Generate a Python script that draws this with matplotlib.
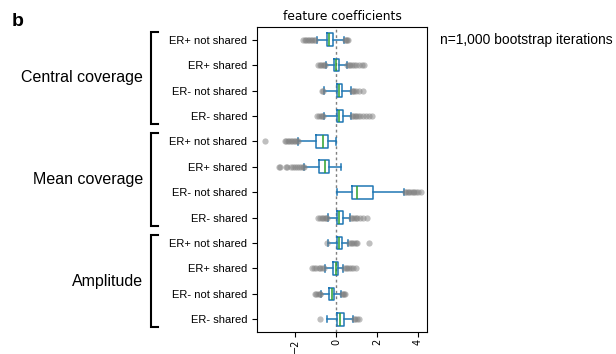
import matplotlib
matplotlib.use("Agg")
import matplotlib.pyplot as plt
from matplotlib.transforms import blended_transform_factory
from matplotlib.lines import Line2D

groups = ["Central coverage", "Mean coverage", "Amplitude"]
subcats = ["ER+ not shared", "ER+ shared", "ER- not shared", "ER- shared"]

# per-row box statistics (12 rows, top to bottom)
q1 = [-0.45, -0.08, 0.03, 0.03, -0.99, -0.81, 0.76, 0.03, 0.03, -0.13, -0.34, 0.03]
med = [-0.33, 0.02, 0.16, 0.16, -0.62, -0.52, 1.01, 0.16, 0.13, 0.00, -0.21, 0.18]
q3 = [-0.16, 0.16, 0.31, 0.33, -0.37, -0.33, 1.79, 0.33, 0.31, 0.11, -0.10, 0.38]
wlo = [-0.94, -0.49, -0.59, -0.59, -1.84, -1.54, 0.03, -0.37, -0.37, -0.54, -0.73, -0.45]
whi = [0.39, 0.52, 0.73, 0.73, 0.00, 0.24, 3.32, 0.68, 0.60, 0.36, 0.23, 0.85]
fliers = [
    [-1.6, -1.52, -1.45, -1.38, -1.3, -1.22, -1.15, -1.08, -1.0, 0.42, 0.48, 0.55, 0.6],
    [-0.87, -0.8, -0.72, -0.65, -0.58, -0.52, 0.55, 0.62, 0.7, 0.78, 0.88, 1.0, 1.12, 1.25, 1.38],
    [-0.7, -0.64, 0.76, 0.82, 0.9, 0.98, 1.1, 1.33],
    [-0.9, -0.82, -0.74, -0.66, -0.62, 0.76, 0.84, 0.92, 1.0, 1.08, 1.18, 1.3, 1.45, 1.6, 1.75],
    [-3.46, -2.49, -2.42, -2.35, -2.28, -2.2, -2.12, -2.05, -1.98, -1.9, -1.86],
    [-2.8, -2.72, -2.45, -2.38, -2.2, -2.1, -2.0, -1.9, -1.8, -1.7, -1.62, -1.57],
    [3.35, 3.42, 3.5, 3.58, 3.66, 3.74, 3.82, 3.9, 4.0, 4.13],
    [-0.86, -0.78, -0.7, -0.62, -0.55, -0.48, -0.42, 0.72, 0.8, 0.88, 0.96, 1.05, 1.15, 1.3, 1.53],
    [-0.45, 0.64, 0.72, 0.8, 0.88, 0.96, 1.05, 1.6],
    [-1.18, -1.05, -0.95, -0.85, -0.76, -0.68, -0.6, 0.4, 0.48, 0.56, 0.64, 0.72, 0.82, 0.98],
    [-1.03, -0.95, -0.87, -0.8, -0.76, 0.28, 0.34, 0.4, 0.44],
    [-0.78, 0.88, 0.95, 1.02, 1.1],
]
xticks = [-2, 0, 2, 4]

fig = plt.figure(figsize=(6.16, 3.54), dpi=100)
ax = fig.add_axes([257/616, 1-332/354, 170/616, 305/354])

stats = []
for i in range(12):
    stats.append(dict(med=med[i], q1=q1[i], q3=q3[i], whislo=wlo[i], whishi=whi[i], fliers=fliers[i]))

blue = "#1f77b4"
ax.bxp(stats, positions=list(range(1, 13)), widths=0.5, orientation="horizontal",
       boxprops=dict(color=blue, linewidth=1.1),
       whiskerprops=dict(color=blue, linewidth=1.1),
       capprops=dict(color=blue, linewidth=1.1),
       medianprops=dict(color="#2ca02c", linewidth=1.1),
       flierprops=dict(marker="o", markerfacecolor="gray", markeredgecolor="none",
                       markersize=4.5, alpha=0.5))

ax.axvline(0, color="gray", linestyle=(0, (2, 2)), linewidth=1.0, zorder=0)
ax.set_xlim(-3.85, 4.44)
ax.set_ylim(12.5, 0.5)
ax.set_xticks(xticks)
ax.set_xticklabels([str(t).replace("-", "\u2212") for t in xticks], rotation=90,
                   fontsize=7, family="DejaVu Sans")
ax.set_yticks(list(range(1, 13)))
ax.set_yticklabels(subcats * 3, fontsize=8, family="Liberation Sans")
ax.tick_params(axis="both", length=3.5, width=0.8)
ax.tick_params(axis="x", pad=1.5)
for s in ax.spines.values():
    s.set_linewidth(0.8)
ax.set_title("feature coefficients", fontsize=8.8, family="DejaVu Sans", pad=5)

trans = blended_transform_factory(fig.transFigure, ax.transData)
xv = 151/616
xh = 158/616
for g, name in enumerate(groups):
    top = g*4 + 1 - 0.31
    bot = g*4 + 4 + 0.31
    fig.add_artist(Line2D([xh, xv, xv, xh], [top, top, bot, bot], transform=trans,
                          color="black", linewidth=1.5, solid_joinstyle="miter"))
    fig.text(143/616, g*4 + 2.5, name, transform=trans, ha="right", va="center",
             fontsize=11.5, family="Liberation Sans")

fig.text(12/616, 1-22/354, "b", fontsize=14, fontweight="bold", family="Liberation Sans",
         va="center", ha="left")
fig.text(440/616, 1-40/354, "n=1,000 bootstrap iterations", fontsize=10,
         family="Liberation Sans", va="center", ha="left")

fig.savefig("out.png", dpi=100)
